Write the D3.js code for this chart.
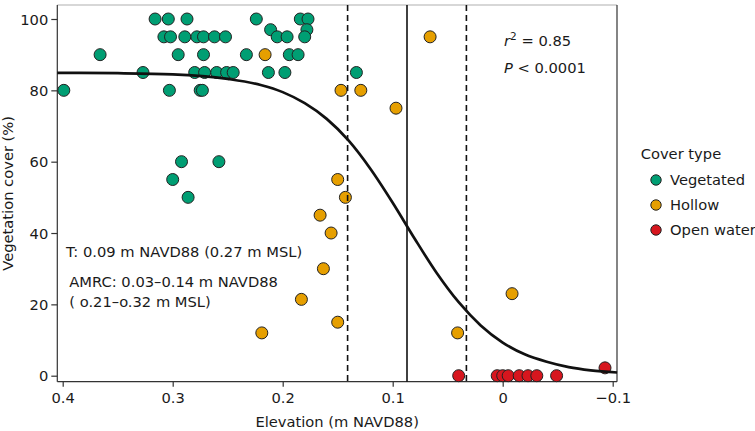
<!DOCTYPE html>
<html><head><meta charset="utf-8">
<script src="https://cdn.jsdelivr.net/npm/d3@7"></script>
<style>body{margin:0;background:#fff}svg text{font-family:"DejaVu Sans",sans-serif;fill:#1a1a1a}</style>
</head><body><svg id="c" width="755" height="431"></svg>
<script>
// ---- data ----
const vegElev  = [0.316,0.304,0.287,0.224,0.184,0.177, 0.211,0.178,
                  0.308,0.302,0.289,0.278,0.272,0.262,0.252,0.205,0.196,0.180,
                  0.366,0.295,0.272,0.233,0.194,0.186,
                  0.327,0.280,0.271,0.260,0.251,0.245,0.213,0.198,0.133,
                  0.399,0.303,0.275,0.273, 0.292,0.258,0.300,0.286];
const vegCover = [100,100,100,100,100,100, 97,97,
                  95,95,95,95,95,95,95,95,95,95,
                  90,90,90,90,90,90,
                  85,85,85,85,85,85,85,85,85,
                  80,80,80,80, 60,60,55,50];
const hollowElev  = [0.216,0.066,0.147,0.129,0.097,0.150,0.143,0.166,0.156,0.163,0.183,0.150,0.219,-0.0085,0.041];
const hollowCover = [90,95,80,80,75,55,50,45,40,30,21.4,15,12,23,12];
const waterElev  = [0.040,0.005,0.000,-0.005,-0.015,-0.023,-0.031,-0.049,-0.093];
const waterCover = [0,0,0,0,0,0,0,0,2.2];
// fitted curve
const fitElev  = [0.405,0.35,0.30,0.25,0.22,0.20,0.18,0.16,0.14,0.12,0.10,0.08,0.06,0.04,0.02,0.00,-0.02,-0.04,-0.06,-0.08,-0.104];
const fitCover = [84.9,84.8,84.5,83.2,81.5,79.5,76.4,72.0,65.9,57.9,48.5,38.4,28.8,20.6,14.1,9.3,6.0,3.9,2.4,1.5,0.9];
const thresholdT = 0.087;
const amrcRange = [0.141, 0.033];
const xTicks = [0.4,0.3,0.2,0.1,0,-0.1];
const yTicks = [0,20,40,60,80,100];
const coverTypes = ["Vegetated","Hollow","Open water"];
const coverColors = ["#009E73","#E69F00","#D7161E"];

// ---- drawing ----
const svg = d3.select("#c");
const P = {l:57.3, r:617, t:5, b:381.7};
const x = d3.scaleLinear().domain([0.4,-0.1]).range([62.7,612.7]);
const y = d3.scaleLinear().domain([0,100]).range([375.7,19]);
const FS = 14.7;

// panel border top/right
svg.append("line").attr("x1",P.l).attr("x2",P.r).attr("y1",P.t).attr("y2",P.t).attr("stroke","#b0b0b0").attr("stroke-width",1.2);
svg.append("line").attr("x1",P.r).attr("x2",P.r).attr("y1",P.t).attr("y2",P.b).attr("stroke","#333").attr("stroke-width",1.2);

// axes
const xAxis = svg.append("g").attr("transform",`translate(0,${P.b})`)
  .call(d3.axisBottom(x).tickValues(xTicks).tickFormat(d=>d===0?"0":(d<0?"\u2212"+Math.abs(d):d)).tickSize(5).tickPadding(6));
xAxis.select(".domain").attr("d",`M${P.l},0H${P.r}`).attr("stroke","#333").attr("stroke-width",1.2);
xAxis.selectAll(".tick line").attr("stroke","#333").attr("stroke-width",1.2);
xAxis.selectAll("text").attr("font-size",FS).attr("fill","#1a1a1a").attr("dy","0").attr("y",21.6).attr("font-family","DejaVu Sans");

const yAxis = svg.append("g").attr("transform",`translate(${P.l},0)`)
  .call(d3.axisLeft(y).tickValues(yTicks).tickSize(6).tickPadding(3));
yAxis.select(".domain").attr("d",`M0,${P.t}V${P.b}`).attr("stroke","#333").attr("stroke-width",1.2);
yAxis.selectAll(".tick line").attr("stroke","#333").attr("stroke-width",1.2);
yAxis.selectAll("text").attr("font-size",FS).attr("fill","#1a1a1a").attr("dy","0.36em").attr("font-family","DejaVu Sans");

// axis titles
svg.append("text").attr("x",(P.l+P.r)/2).attr("y",426.7).attr("text-anchor","middle").attr("font-size",FS).text("Elevation (m NAVD88)");
svg.append("text").attr("transform",`translate(12.5,${(P.t+P.b)/2}) rotate(-90)`).attr("text-anchor","middle").attr("font-size",FS).text("Vegetation cover (%)");

// points
const pts = [];
vegElev.forEach((e,i)=>pts.push({e,c:vegCover[i],k:0}));
hollowElev.forEach((e,i)=>pts.push({e,c:hollowCover[i],k:1}));
waterElev.forEach((e,i)=>pts.push({e,c:waterCover[i],k:2}));
svg.append("g").selectAll("circle").data(pts).join("circle")
  .attr("cx",d=>x(d.e)).attr("cy",d=>y(d.c)).attr("r",6)
  .attr("fill",d=>coverColors[d.k]).attr("stroke","#222").attr("stroke-width",1);

// vertical lines
svg.append("line").attr("x1",x(thresholdT)).attr("x2",x(thresholdT)).attr("y1",P.t).attr("y2",P.b).attr("stroke","#111").attr("stroke-width",1.6);
amrcRange.forEach(v=>svg.append("line").attr("x1",x(v)).attr("x2",x(v)).attr("y1",P.t).attr("y2",P.b)
  .attr("stroke","#111").attr("stroke-width",1.6).attr("stroke-dasharray","6,4"));

// fitted curve
const fit = fitElev.map((e,i)=>[x(e),y(fitCover[i])]);
svg.append("path").datum(fit).attr("d",d3.line().curve(d3.curveMonotoneX)).attr("fill","none").attr("stroke","#111").attr("stroke-width",2.7);

// annotations
const r2 = svg.append("text").attr("x",504).attr("y",46).attr("font-size",FS);
r2.append("tspan").attr("font-style","italic").text("r");
r2.append("tspan").attr("font-size",FS*0.72).attr("dy",-6).text("2");
r2.append("tspan").attr("dy",6).text(" = 0.85");
const pv = svg.append("text").attr("x",504).attr("y",73.3).attr("font-size",FS);
pv.append("tspan").attr("font-style","italic").text("P");
pv.append("tspan").text(" < 0.0001");
svg.append("text").attr("x",66).attr("y",256.7).attr("font-size",FS).text("T: 0.09 m NAVD88 (0.27 m MSL)");
svg.append("text").attr("x",69.3).attr("y",286.7).attr("font-size",FS).text("AMRC: 0.03\u20130.14 m NAVD88");
svg.append("text").attr("x",69.3).attr("y",307.3).attr("font-size",FS).text("( o.21\u2013o.32 m MSL)");

// legend
svg.append("text").attr("x",640.7).attr("y",159).attr("font-size",FS).text("Cover type");
const lg = svg.append("g").selectAll("g").data(coverTypes).join("g").attr("transform",(d,i)=>`translate(656,${180+i*25})`);
lg.append("circle").attr("r",5.2).attr("fill",(d,i)=>coverColors[i]).attr("stroke","#222").attr("stroke-width",1);
lg.append("text").attr("x",14).attr("y",5.3).attr("font-size",FS).text(d=>d);
</script></body></html>
